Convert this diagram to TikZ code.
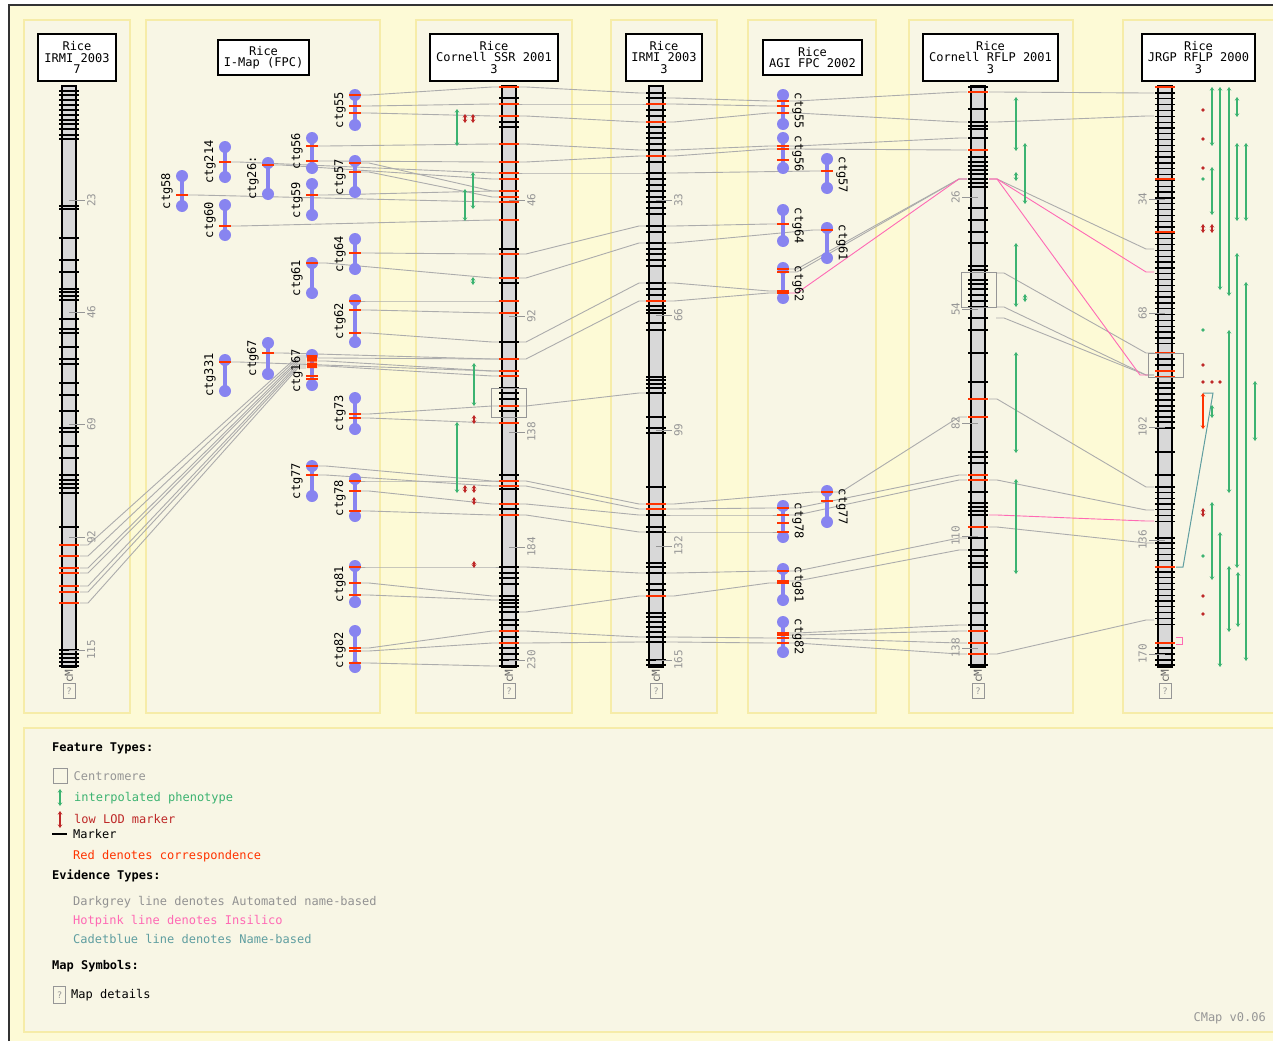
\documentclass[tikz,border=0pt]{standalone}
\usepackage{fontspec}
\setmonofont{DejaVu Sans Mono}
\usepackage{tikz}
\usetikzlibrary{arrows.meta,positioning}

\definecolor{pagebg}{RGB}{253,250,214}
\definecolor{panelbg}{RGB}{248,246,229}
\definecolor{panelline}{RGB}{246,236,168}
\definecolor{chromgray}{RGB}{216,216,216}
\definecolor{corrred}{RGB}{255,51,0}
\definecolor{ctgblue}{RGB}{136,132,240}
\definecolor{linkgray}{RGB}{172,172,172}
\definecolor{phengreen}{RGB}{60,179,113}
\definecolor{lodred}{RGB}{190,40,40}
\definecolor{hotpink}{RGB}{255,105,180}
\definecolor{cadetblue}{RGB}{95,158,160}
\definecolor{scalegray}{RGB}{150,150,150}

\tikzset{
  panel/.style={fill=panelbg, draw=panelline, line width=1.2pt},
  mapttl/.style={draw, fill=white, line width=1.4pt, align=center, inner sep=1pt,
                 font=\ttfamily\fontsize{12}{11.5}\selectfont},
  chrom/.style={fill=chromgray, draw=black, line width=1.4pt},
  tick/.style={black, line width=1.3pt},
  redtick/.style={corrred, line width=1.3pt},
  ctgline/.style={ctgblue, line width=3.5pt},
  link/.style={linkgray, line width=0.9pt},
  insilico/.style={hotpink, line width=0.9pt},
  namebased/.style={cadetblue, line width=1pt},
  phen/.style={phengreen, line width=1.1pt, {Stealth[length=3.5pt,width=4.5pt]}-{Stealth[length=3.5pt,width=4.5pt]}},
  lod/.style={lodred, line width=1.1pt, {Stealth[length=3.5pt,width=4.5pt]}-{Stealth[length=3.5pt,width=4.5pt]}},
  ctglbl/.style={font=\ttfamily\fontsize{12}{12}\selectfont, inner sep=0pt},
  scaletick/.style={scalegray, line width=0.9pt},
  scalelbl/.style={rotate=90, text=scalegray, inner sep=0pt, font=\ttfamily\fontsize{11}{11}\selectfont},
  qbox/.style={draw=scalegray, line width=0.9pt, minimum width=12pt, minimum height=15pt,
               inner sep=0pt, text=scalegray, font=\ttfamily\fontsize{9}{9}\selectfont},
  leghead/.style={anchor=west, inner sep=0pt, font=\ttfamily\bfseries\fontsize{12}{12}\selectfont},
  legtxt/.style={anchor=west, inner sep=0pt, font=\ttfamily\fontsize{12}{12}\selectfont}
}

\newcommand{\cmlink}[5][]{\draw[link,#1] (#2,#3) -- (#2+8,#3) -- (#4-8,#5) -- (#4,#5);}
\newcommand{\mapticks}[3][tick]{\foreach \t in {#3} \draw[#1] (#2-10,\t) -- (#2+10,\t);}
\newcommand{\contig}[4]{%
  \draw[ctgline] (#1,#2) -- (#1,#3);
  \fill[ctgblue] (#1,#2) circle (6pt) (#1,#3) circle (6pt);
  \foreach \r in {#4} \draw[redtick] (#1-6,\r) -- (#1+6,\r);}

\begin{document}
\begin{tikzpicture}[x=1pt, y=-1pt]

  \useasboundingbox (0,0) rectangle (1273,1041);
  \fill[white] (0,0) rectangle (1273,1041);
  \fill[pagebg] (9,5) rectangle (1273,1041);
  \draw[black!80, line width=1.5pt] (9,1041) -- (9,5) -- (1273,5);

  % panels
  \foreach \xa/\xb in {24/130, 146/380, 416/572, 611/717, 748/876, 909/1073, 1123/1285}
    \draw[panel] (\xa,20) rectangle (\xb,713);
  \draw[panel] (24,728) rectangle (1285,1032);

  % correspondences
  \foreach \a/\b in {545/356,556/358,568/360,573/362,586/364,592/366,603/368}
    \cmlink{80}{\a}{306}{\b};
  \foreach \xa/\a/\b in {361/95/87, 361/106/104, 361/113/116, 318/146/144, 318/161/162,
      231/162/173, 274/165/179, 361/163/191, 361/172/197, 188/195/202, 318/195/191,
      231/226/220, 361/253/254, 318/263/278, 361/301/301, 361/310/313, 361/333/342,
      274/353/359, 231/362/371, 318/358/359, 318/361/371, 318/366/376, 361/414/406,
      361/418/423, 318/466/481, 318/475/486, 361/481/481, 361/491/504, 361/511/515,
      361/567/567, 361/583/596, 361/595/600, 361/648/631, 361/651/643, 361/663/666}
    \cmlink{\xa}{\a}{500}{\b};
  \foreach \a/\b in {87/93,104/104,116/122,144/150,162/156,173/173,254/226,278/243,342/283,
      359/301,406/393,481/504,486/509,504/515,515/532,567/573,612/596,631/637,643/642}
    \cmlink{518}{\a}{647}{\b};
  \foreach \a/\xb/\b in {98/777/101, 104/777/106, 122/777/113, 150/777/146, 156/777/149,
      173/821/171, 226/777/224, 243/821/230, 283/777/291, 301/777/293, 504/821/492,
      509/777/508, 515/777/515, 532/777/532, 573/777/571, 596/777/583, 637/777/638, 642/777/643}
    \cmlink{666}{\a}{\xb}{\b};
  \foreach \xa/\a/\b in {789/101/92, 789/113/122, 789/146/138, 789/149/150, 789/269/179,
      789/272/179, 833/492/417, 789/508/475, 789/515/480, 789/571/538, 789/581/550,
      789/633/625, 789/635/631, 789/638/643, 789/643/654}
    \cmlink{\xa}{\a}{967}{\b};
  \cmlink[insilico]{789}{293}{967}{179}
  \foreach \xa/\a/\b in {989/92/93, 989/122/116, 989/179/249, 996/273/353, 996/307/375,
      996/318/375, 989/399/487, 989/480/510, 989/527/543, 989/654/620}
    \cmlink{\xa}{\a}{1154}{\b};
  \cmlink[insilico]{989}{179}{1154}{272}
  \cmlink[insilico]{989}{179}{1148}{375}
  \cmlink[insilico]{989}{515}{1154}{521}
  \draw[namebased] (1176,567) -- (1183,567) -- (1213,393) -- (1203,393);
  \draw[insilico] (1176,637) -- (1182,637) -- (1182,644) -- (1176,644);

  % phenotypes
  \foreach \x/\a/\b in {457/109/146, 473/172/209, 465/189/221, 473/277/285, 474/363/406,
      457/422/493, 1016/97/151, 1025/143/204, 1016/172/181, 1016/243/307, 1025/294/302,
      1016/352/453, 1016/479/574, 1212/87/146, 1220/87/290, 1229/87/296, 1237/97/117,
      1237/143/221, 1246/143/221, 1212/167/215, 1237/253/568, 1246/282/661, 1229/330/493,
      1255/381/441, 1212/405/418, 1212/502/580, 1220/532/667, 1229/566/632, 1238/572/627}
    \draw[phen] (\x,\a) -- (\x,\b);
  \foreach \x/\a/\b in {465/114/123, 473/114/123, 474/415/424, 465/485/493, 474/485/493,
      474/497/505, 474/561/568, 1203/224/233, 1212/224/233, 1203/508/517}
    \draw[lod] (\x,\a) -- (\x,\b);
  \draw[lod, corrred] (1203,393) -- (1203,429);
  \foreach \x/\y in {1203/110, 1203/139, 1203/168, 1203/365, 1203/382, 1212/382,
      1220/382, 1203/596, 1203/614}
    \fill[lodred] (\x,\y) circle (1.8pt);
  \foreach \x/\y in {1203/179, 1203/330, 1203/556}
    \fill[phengreen] (\x,\y) circle (1.8pt);

  % chromosomes
  \foreach \c in {69, 509, 656, 978, 1165}
    \draw[chrom] (\c-7,86) rectangle (\c+7,667);
  \mapticks{69}{91,95,100,105,110,115,120,124,129,135,139,206,209,238,260,272,289,292,296,
      300,319,329,333,347,359,364,383,395,411,428,432,446,458,475,480,484,488,493,527,
      650,654,658,662,666}
  \mapticks[redtick]{69}{545,556,568,573,586,592,603}
  \mapticks{509}{98,122,127,249,283,342,388,393,399,411,475,489,509,567,573,578,584,596,
      600,603,607,612,620,625,637,648,654,660,666}
  \mapticks[redtick]{509}{87,104,116,144,162,173,179,191,197,202,220,254,278,301,313,359,
      371,376,406,423,481,486,504,515,631,643}
  \mapticks{656}{93,98,110,116,127,133,138,144,150,162,173,179,185,191,197,202,208,214,
      226,232,243,249,254,260,266,283,289,295,306,310,313,323,330,377,380,384,388,393,
      417,428,433,487,515,527,532,563,567,573,584,590,613,617,622,627,632,637,642,660,665}
  \mapticks[redtick]{656}{104,122,156,301,504,509,596}
  \mapticks{978}{87,109,122,126,129,138,157,162,166,170,174,179,183,187,208,220,232,243,
      266,270,280,284,289,295,301,307,318,330,353,382,452,457,463,492,503,507,511,515,
      538,550,556,563,567,585,603,613,625,665}
  \mapticks[redtick]{978}{92,150,399,417,475,480,527,631,643,654}
  \mapticks{1165}{93,98.83,...,347}
  \mapticks{1165}{359,365,383,388,394,400,406,411,417,422,428,452,475,487,492.7,...,522}
  \mapticks{1165}{538,543,548.8,...,626}
  \mapticks{1165}{648,654,660,665}
  \mapticks[redtick]{1165}{87,179,232,353,371,377,567,643}

  % centromeres
  \draw[scalegray, line width=1pt] (491,388) rectangle (526,417);
  \draw[scalegray, line width=1pt] (961,272) rectangle (996,307);
  \draw[scalegray, line width=1pt] (1148,353) rectangle (1183,377);

  % scales
  \foreach \c/\ys in {69/{200/23,312/46,424/69,537/92,650/115},
      509/{200/46,316/92,432/138,547/184,660/230},
      656/{200/33,315/66,430/99,546/132,660/165}}
    \foreach \y/\v in \ys {
      \draw[scaletick] (\c,\y) -- (\c+16,\y);
      \node[scalelbl, anchor=north] at (\c+18,\y) {\v};
    }
  \foreach \c/\ys in {978/{197/26,309/54,423/82,536/110,648/138},
      1165/{199/34,313/68,427/102,540/136,654/170}}
    \foreach \y/\v in \ys {
      \draw[scaletick] (\c-16,\y) -- (\c,\y);
      \node[scalelbl, anchor=south] at (\c-18,\y) {\v};
    }
  \foreach \c in {69, 509, 656, 978, 1165} {
    \node[scalelbl, text=black!60] at (\c,676) {cM};
    \node[qbox] at (\c,691) {?};
  }

  % contigs
  \contig{182}{176}{206}{195}
  \contig{225}{147}{177}{162}
  \contig{225}{205}{235}{226}
  \contig{268}{163}{194}{165}
  \contig{312}{138}{168}{146,161}
  \contig{355}{95}{125}{95,106,113}
  \contig{355}{161}{192}{163,172}
  \contig{312}{184}{215}{195}
  \contig{355}{239}{269}{253}
  \contig{312}{263}{293}{263}
  \contig{355}{300}{342}{301,310,333}
  \contig{225}{360}{391}{362}
  \contig{268}{343}{374}{353}
  \contig{312}{355}{385}{376,379}
  \fill[corrred] (307,355) rectangle (317,361.5) (307,362.5) rectangle (317,368);
  \contig{355}{398}{429}{414,418}
  \contig{312}{466}{496}{466,475}
  \contig{355}{479}{516}{481,491,511}
  \contig{355}{566}{602}{567,583,595}
  \contig{355}{631}{667}{648,651,663}
  \contig{783}{95}{124}{101,106,113}
  \contig{783}{138}{168}{146,149,160}
  \contig{827}{159}{188}{171}
  \contig{783}{210}{241}{224}
  \contig{827}{228}{258}{230}
  \contig{783}{268}{298}{269,272,291,293}
  \contig{783}{506}{537}{508,515,523,532}
  \contig{827}{491}{522}{492,501}
  \contig{783}{569}{600}{571,581,583}
  \contig{783}{622}{652}{633,635,638,643}

  \foreach \x/\y/\t in {355/110/ctg55, 225/162/ctg214, 182/191/ctg58, 225/220/ctg60,
      268/178/ctg26:, 312/151/ctg56, 355/177/ctg57, 312/200/ctg59, 355/254/ctg64,
      312/278/ctg61, 355/321/ctg62, 225/375/ctg331, 268/358/ctg67, 312/371/ctg167,
      355/413/ctg73, 312/481/ctg77, 355/498/ctg78, 355/584/ctg81, 355/650/ctg82}
    \node[ctglbl, rotate=90, anchor=south] at (\x-9,\y) {\t};
  \foreach \x/\y/\t in {783/111/ctg55, 783/154/ctg56, 827/175/ctg57, 783/226/ctg64,
      827/243/ctg61, 783/284/ctg62, 783/521/ctg78, 827/507/ctg77, 783/585/ctg81,
      783/637/ctg82}
    \node[ctglbl, rotate=-90, anchor=south] at (\x+9,\y) {\t};

  % map titles
  \node[mapttl, minimum width=78pt, minimum height=47pt] (irmi7) at (77,57.5) {Rice\\IRMI 2003\\7};
  \node[mapttl, minimum width=91pt, minimum height=35pt] (imap) at (263.5,57.5) {Rice\\I-Map (FPC)};
  \node[mapttl, minimum width=128pt, minimum height=47pt] (ssr) at (494,57.5) {Rice\\Cornell SSR 2001\\3};
  \node[mapttl, minimum width=76pt, minimum height=47pt] (irmi3) at (664,57.5) {Rice\\IRMI 2003\\3};
  \node[mapttl, minimum width=99pt, minimum height=35pt] (agi) at (812.5,57.5) {Rice\\AGI FPC 2002};
  \node[mapttl, minimum width=135pt, minimum height=47pt] (rflp) at (990.5,57.5) {Rice\\Cornell RFLP 2001\\3};
  \node[mapttl, minimum width=113pt, minimum height=47pt] (jrgp) at (1198.5,57.5) {Rice\\JRGP RFLP 2000\\3};

  % legend
  \node[leghead] (fthd) at (52,748) {Feature Types:};
  \node[draw=scalegray, line width=1pt, minimum width=14pt, minimum height=15pt, inner sep=0pt]
        (cbox) at (60,776) {};
  \node[legtxt, text=scalegray, right=6pt of cbox] {Centromere};
  \draw[phen] (60,789) -- (60,806);
  \node[legtxt, text=phengreen] at (74,798) {interpolated phenotype};
  \draw[lod] (60,811) -- (60,828);
  \node[legtxt, text=lodred] at (74,819) {low LOD marker};
  \draw[black, line width=1.2pt] (52,834) -- (67,834);
  \node[legtxt] at (73,834) {Marker};
  \node[legtxt, text=corrred] at (73,856) {Red denotes correspondence};
  \node[leghead] (evhd) at (52,876) {Evidence Types:};
  \node[legtxt, text=linkgray!85!black] at (73,902) {Darkgrey line denotes Automated name-based};
  \node[legtxt, text=hotpink] at (73,921) {Hotpink line denotes Insilico};
  \node[legtxt, text=cadetblue] at (73,939) {Cadetblue line denotes Name-based};
  \node[leghead] (mshd) at (52,966) {Map Symbols:};
  \node[qbox, minimum height=17pt] (qleg) at (59.5,995) {?};
  \node[legtxt, right=5pt of qleg] {Map details};
  \node[legtxt, anchor=east, text=scalegray] at (1266,1018) {CMap v0.06};

\end{tikzpicture}
\end{document}
